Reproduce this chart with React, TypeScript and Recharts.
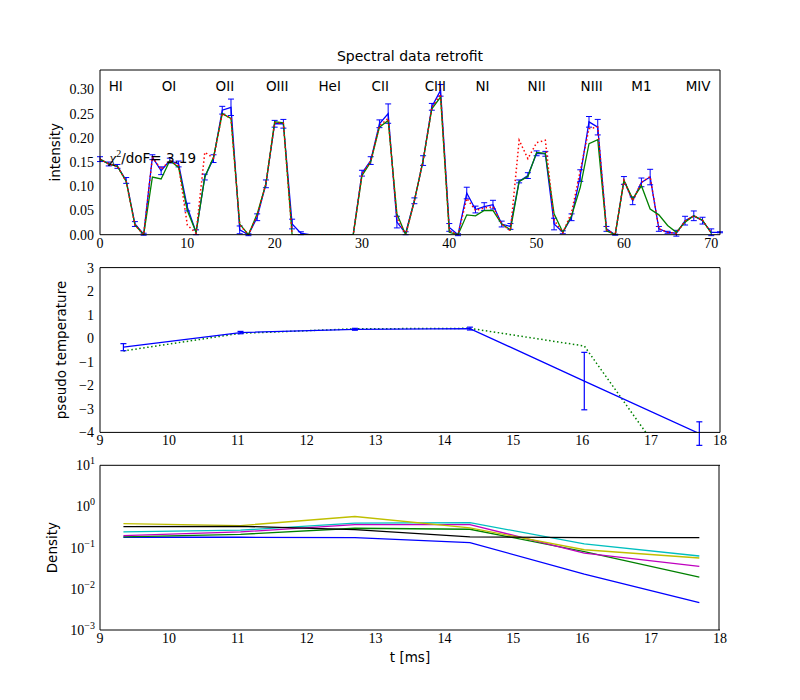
import { LineChart, Line, XAxis, YAxis, ErrorBar, ReferenceDot } from "recharts";

const SANS = "DejaVu Sans";
const SERIF = "Liberation Serif";
const BLACK = "#000000";

// ---- spectral channels (top panel) ----
const measured = [
  0.156, 0.146, 0.141, 0.112, 0.022, 0.001, 0.16, 0.132, 0.153, 0.146,
  0.057, 0.005, 0.119, 0.157, 0.257, 0.263, 0.01, 0.0, 0.036, 0.105,
  0.229, 0.229, 0.022, 0.003, 0, 0, 0, 0, 0, 0,
  0.127, 0.153, 0.229, 0.25, 0.026, 0.003, 0.07, 0.153, 0.264, 0.298,
  0.015, 0.0, 0.086, 0.052, 0.058, 0.062, 0.022, 0.017, 0.11, 0.122,
  0.168, 0.167, 0.022, 0.005, 0.036, 0.122, 0.233, 0.222, 0.012, 0.0,
  0.112, 0.07, 0.108, 0.119, 0.012, 0.005, 0.003, 0.029, 0.039, 0.029,
  0.005, 0.005,
];
const measuredErr = [
  0.005, 0.004, 0.004, 0.006, 0.005, 0.002, 0.005, 0.008, 0.005, 0.006,
  0.008, 0.005, 0.006, 0.008, 0.008, 0.017, 0.008, 0.002, 0.007, 0.008,
  0.007, 0.009, 0.01, 0.003, 0, 0, 0, 0, 0, 0,
  0.006, 0.008, 0.008, 0.02, 0.012, 0.003, 0.006, 0.01, 0.007, 0.012,
  0.008, 0.002, 0.012, 0.007, 0.008, 0.009, 0.006, 0.006, 0.003, 0.006,
  0.005, 0.005, 0.012, 0.003, 0.007, 0.012, 0.011, 0.016, 0.005, 0.001,
  0.008, 0.008, 0.009, 0.016, 0.005, 0.002, 0.006, 0.009, 0.01, 0.007,
  0.007, 0.001,
];
const fitted = [
  0.156, 0.146, 0.141, 0.11, 0.02, 0.0, 0.119, 0.115, 0.153, 0.139,
  0.05, 0.005, 0.119, 0.16, 0.25, 0.24, 0.022, 0.0, 0.043, 0.105,
  0.233, 0.231, 0.0, 0, 0, 0, 0, 0, 0, 0,
  0.122, 0.15, 0.222, 0.236, 0.043, 0.0, 0.07, 0.153, 0.26, 0.284,
  0.005, 0.0, 0.041, 0.039, 0.05, 0.05, 0.022, 0.01, 0.11, 0.12,
  0.17, 0.168, 0.043, 0.005, 0.039, 0.098, 0.188, 0.196, 0.008, 0.0,
  0.112, 0.074, 0.101, 0.053, 0.041, 0.019, 0.005, 0.026, 0.039, 0.03,
  0.003, null,
];
const fittedAlt = [
  0.156, 0.146, 0.141, 0.11, 0.02, 0.0, 0.16, 0.135, 0.153, 0.142,
  0.02, 0.003, 0.17, 0.158, 0.25, 0.24, 0.02, 0.0, 0.04, 0.105,
  0.231, 0.23, 0.0, 0, 0, 0, 0, 0, 0, 0,
  0.125, 0.152, 0.225, 0.24, 0.035, 0.0, 0.07, 0.153, 0.262, 0.29,
  0.008, 0.0, 0.075, 0.05, 0.055, 0.058, 0.022, 0.008, 0.195, 0.157,
  0.19, 0.195, 0.03, 0.004, 0.046, 0.132, 0.219, 0.222, 0.01, 0.0,
  0.112, 0.07, 0.108, 0.12, 0.012, 0.005, 0.003, 0.028, 0.039, 0.03,
  0.004, null,
];

const ionNames = ["HI", "OI", "OII", "OIII", "HeI", "CII", "CIII", "NI", "NII", "NIII", "M1", "MIV"];
const ionCenters = [1.8, 7.9, 14.3, 20.3, 26.3, 32.1, 38.4, 43.8, 50.0, 56.3, 62.0, 68.5];
const ionLabelY = 0.307;
const chi2 = "3.19";

const channelTicks = [0, 10, 20, 30, 40, 50, 60, 70];
const intensityTicks = [0, 0.05, 0.1, 0.15, 0.2, 0.25, 0.3];

// ---- time traces (middle + bottom panels) ----
const times = [9.34, 11.04, 12.7, 14.37, 16.03, 17.7];
const tempMeasured = [-0.38, 0.24, 0.38, 0.41, -1.82, -4.05];
const tempErr = [0.15, 0.05, 0.04, 0.06, 1.22, 0.5];
const tempAlt = [-0.54, 0.21, 0.4, 0.42, -0.33, -7.2];

const densBlue = [0.179, 0.179, 0.175, 0.132, 0.0228, 0.00465];
const densGreen = [0.182, 0.211, 0.296, 0.28, 0.08, 0.0193];
const densCyan = [0.241, 0.265, 0.392, 0.407, 0.123, 0.0627];
const densMagenta = [0.196, 0.241, 0.364, 0.364, 0.074, 0.035];
const densYellow = [0.385, 0.344, 0.57, 0.302, 0.089, 0.056];
const densBlack = [0.325, 0.33, 0.275, 0.182, 0.175, 0.175];

const timeTicks = [9, 10, 11, 12, 13, 14, 15, 16, 17, 18];
const tempTicks = [-4, -3, -2, -1, 0, 1, 2, 3];
const densTicks = [0.001, 0.01, 0.1, 1, 10];
const densMinorTicks = [0.001, 0.01, 0.1, 1].flatMap((d) => [2, 3, 4, 5, 6, 7, 8, 9].map((m) => m * d));

const spectrum = measured.map((v, i) => ({
  ch: i,
  meas: v,
  err: measuredErr[i],
  fit: fitted[i],
  alt: fittedAlt[i],
}));
const tempData = times.map((t, i) => ({ t, meas: tempMeasured[i], err: tempErr[i], alt: tempAlt[i] }));
const densData = times.map((t, i) => ({
  t,
  b: densBlue[i],
  g: densGreen[i],
  c: densCyan[i],
  m: densMagenta[i],
  y: densYellow[i],
  k: densBlack[i],
}));

const AXIS_LINE = { stroke: BLACK, strokeWidth: 1 };
const TICK_TEXT = { fontFamily: SERIF, fontSize: 14, fill: BLACK };
const minus = (v: number) => (v < 0 ? `\u2212${-v}` : `${v}`);

function SideTitle({ viewBox, text, dx }: any) {
  const x = viewBox.x + dx;
  const y = viewBox.y + viewBox.height / 2;
  return (
    <text x={x} y={y} transform={`rotate(-90 ${x} ${y})`} textAnchor="middle" dominantBaseline="central"
      fontFamily={SANS} fontSize={13.5} fill={BLACK}>
      {text}
    </text>
  );
}

function IonLabel({ viewBox, text }: any) {
  return (
    <text x={viewBox.x + viewBox.width / 2} y={viewBox.y + viewBox.height / 2} textAnchor="middle"
      dominantBaseline="central" fontFamily={SANS} fontSize={13.5} fill={BLACK}>
      {text}
    </text>
  );
}

function ChiLabel({ viewBox, text }: any) {
  return (
    <text x={viewBox.x} y={viewBox.y} fontFamily={SANS} fontSize={13.5} fill={BLACK}>
      <tspan fontFamily={SERIF} fontStyle="italic" fontSize={15}>χ</tspan>
      <tspan dy={-6} fontFamily={SERIF} fontSize={10}>2</tspan>
      <tspan dy={6}>/doF= {text}</tspan>
    </text>
  );
}

function PowerTick({ x, y, payload }: any) {
  const exp = Math.round(Math.log10(payload.value));
  return (
    <text x={x} y={y + 5} textAnchor="end" fontFamily={SERIF} fontSize={14} fill={BLACK}>
      10<tspan dy={-6} fontSize={10}>{minus(exp)}</tspan>
    </text>
  );
}

// mirrored axes give the inward ticks and the top/right edges of the box
function frameAxes(xDomain: number[], xTicks: number[], yDomain: number[], yTicks: number[], log = false, title?: string) {
  const scale = log ? "log" : "linear";
  const items = [
    <XAxis key="xin" xAxisId="xin" type="number" orientation="bottom" mirror height={1} domain={xDomain}
      ticks={xTicks} interval={0} allowDataOverflow tick={false} tickSize={4} axisLine={false} tickLine={AXIS_LINE} />,
    <XAxis key="xtop" xAxisId="xtop" type="number" orientation="top" mirror height={1} domain={xDomain}
      ticks={xTicks} interval={0} allowDataOverflow tick={false} tickSize={4} axisLine={AXIS_LINE} tickLine={AXIS_LINE}
      label={title ? {
        content: (p: any) => (
          <text x={p.viewBox.x + p.viewBox.width / 2} y={p.viewBox.y - 9} textAnchor="middle"
            fontFamily={SANS} fontSize={14} fill={BLACK}>{title}</text>
        ),
      } : undefined} />,
    <YAxis key="yin" yAxisId="yin" type="number" scale={scale} orientation="left" mirror width={1} domain={yDomain}
      ticks={yTicks} interval={0} allowDataOverflow tick={false} tickSize={4} axisLine={false} tickLine={AXIS_LINE} />,
    <YAxis key="yright" yAxisId="yright" type="number" scale={scale} orientation="right" mirror width={1} domain={yDomain}
      ticks={yTicks} interval={0} allowDataOverflow tick={false} tickSize={4} axisLine={AXIS_LINE} tickLine={AXIS_LINE} />,
  ];
  if (log) {
    items.push(
      <YAxis key="ymin" yAxisId="ymin" type="number" scale="log" orientation="left" mirror width={1} domain={yDomain}
        ticks={densMinorTicks} interval={0} allowDataOverflow tick={false} tickSize={2} axisLine={false} tickLine={AXIS_LINE} />,
      <YAxis key="ymaxr" yAxisId="ymaxr" type="number" scale="log" orientation="right" mirror width={1} domain={yDomain}
        ticks={densMinorTicks} interval={0} allowDataOverflow tick={false} tickSize={2} axisLine={false} tickLine={AXIS_LINE} />,
    );
  }
  return items;
}

export default function App() {
  return (
    <div style={{ position: "absolute", left: 0, top: 0, width: 800, height: 700, background: "#fff" }}>
      <style>{`.recharts-surface { overflow: visible; }`}</style>
      <div style={{ position: "absolute", left: 0, top: 0 }}>
        <LineChart width={800} height={260} data={spectrum} margin={{ top: 70, right: 80, bottom: 0, left: 0 }}>
          <XAxis xAxisId="x" dataKey="ch" type="number" domain={[0, 71]} ticks={channelTicks} interval={0}
            allowDataOverflow height={25.3} tickLine={false} tickSize={0} tickMargin={3} axisLine={AXIS_LINE} tick={TICK_TEXT} />
          <YAxis yAxisId="y" type="number" domain={[0, 0.34]} ticks={intensityTicks} interval={0} allowDataOverflow
            width={100} tickLine={false} tickSize={0} tickMargin={6} axisLine={AXIS_LINE} tick={TICK_TEXT}
            tickFormatter={(v: number) => v.toFixed(2)}
            label={{ content: (p: any) => <SideTitle viewBox={p.viewBox} text="intensity" dx={55} /> }} />
          {frameAxes([0, 71], channelTicks, [0, 0.34], intensityTicks, false, "Spectral data retrofit")}
          <Line xAxisId="x" yAxisId="y" dataKey="meas" stroke="#0000ff" strokeWidth={1.3} dot={false} isAnimationActive={false}>
            <ErrorBar dataKey="err" direction="y" width={3} stroke="#0000ff" strokeWidth={1} />
          </Line>
          <Line xAxisId="x" yAxisId="y" dataKey="fit" stroke="#008000" strokeWidth={1.3} dot={false} isAnimationActive={false} />
          <Line xAxisId="x" yAxisId="y" dataKey="alt" stroke="#ff0000" strokeWidth={1.5} strokeDasharray="1.5 2.5"
            dot={false} isAnimationActive={false} />
          {ionNames.map((name, i) => (
            <ReferenceDot key={name} xAxisId="x" yAxisId="y" x={ionCenters[i]} y={ionLabelY} r={0} fill="none" stroke="none"
              label={{ content: (p: any) => <IonLabel viewBox={p.viewBox} text={name} /> }} />
          ))}
          <ReferenceDot xAxisId="x" yAxisId="y" x={1.1} y={0.147} r={0} fill="none" stroke="none"
            label={{ content: (p: any) => <ChiLabel viewBox={p.viewBox} text={chi2} /> }} />
        </LineChart>
      </div>

      <div style={{ position: "absolute", left: 0, top: 260 }}>
        <LineChart width={800} height={200} data={tempData} margin={{ top: 7.6, right: 80, bottom: 0, left: 0 }}>
          <XAxis xAxisId="x" dataKey="t" type="number" domain={[9, 18]} ticks={timeTicks} interval={0}
            allowDataOverflow height={27.6} tickLine={false} tickSize={0} tickMargin={3} axisLine={AXIS_LINE} tick={TICK_TEXT} />
          <YAxis yAxisId="y" type="number" domain={[-4, 3]} ticks={tempTicks} interval={0} allowDataOverflow
            width={100} tickLine={false} tickSize={0} tickMargin={6} axisLine={AXIS_LINE} tick={TICK_TEXT}
            tickFormatter={minus}
            label={{ content: (p: any) => <SideTitle viewBox={p.viewBox} text="pseudo temperature" dx={61} /> }} />
          {frameAxes([9, 18], timeTicks, [-4, 3], tempTicks)}
          <Line xAxisId="x" yAxisId="y" dataKey="alt" stroke="#008000" strokeWidth={1.5} strokeDasharray="1.5 2.5"
            dot={false} isAnimationActive={false} />
          <Line xAxisId="x" yAxisId="y" dataKey="meas" stroke="#0000ff" strokeWidth={1.3} dot={false} isAnimationActive={false}>
            <ErrorBar dataKey="err" direction="y" width={3} stroke="#0000ff" strokeWidth={1.2} />
          </Line>
        </LineChart>
      </div>

      <div style={{ position: "absolute", left: 0, top: 460 }}>
        <LineChart width={800} height={240} data={densData} margin={{ top: 5.3, right: 80, bottom: 0, left: 0 }}>
          <XAxis xAxisId="x" dataKey="t" type="number" domain={[9, 18]} ticks={timeTicks} interval={0}
            allowDataOverflow height={70} tickLine={false} tickSize={0} tickMargin={3} axisLine={AXIS_LINE} tick={TICK_TEXT}
            label={{
              content: (p: any) => (
                <text x={p.viewBox.x + p.viewBox.width / 2} y={p.viewBox.y + 27} textAnchor="middle"
                  dominantBaseline="central" fontFamily={SANS} fontSize={13.5} fill={BLACK}>t [ms]</text>
              ),
            }} />
          <YAxis yAxisId="y" type="number" scale="log" domain={[0.001, 10]} ticks={densTicks} interval={0} allowDataOverflow
            width={100} tickLine={false} tickSize={0} tickMargin={5} axisLine={AXIS_LINE} tick={<PowerTick />}
            label={{ content: (p: any) => <SideTitle viewBox={p.viewBox} text="Density" dx={52} /> }} />
          {frameAxes([9, 18], timeTicks, [0.001, 10], densTicks, true)}
          <Line xAxisId="x" yAxisId="y" dataKey="b" stroke="#0000ff" strokeWidth={1.3} dot={false} isAnimationActive={false} />
          <Line xAxisId="x" yAxisId="y" dataKey="g" stroke="#008000" strokeWidth={1.3} dot={false} isAnimationActive={false} />
          <Line xAxisId="x" yAxisId="y" dataKey="c" stroke="#00bfbf" strokeWidth={1.3} dot={false} isAnimationActive={false} />
          <Line xAxisId="x" yAxisId="y" dataKey="m" stroke="#bf00bf" strokeWidth={1.3} dot={false} isAnimationActive={false} />
          <Line xAxisId="x" yAxisId="y" dataKey="y" stroke="#bfbf00" strokeWidth={1.3} dot={false} isAnimationActive={false} />
          <Line xAxisId="x" yAxisId="y" dataKey="k" stroke="#000000" strokeWidth={1.3} dot={false} isAnimationActive={false} />
        </LineChart>
      </div>
    </div>
  );
}
